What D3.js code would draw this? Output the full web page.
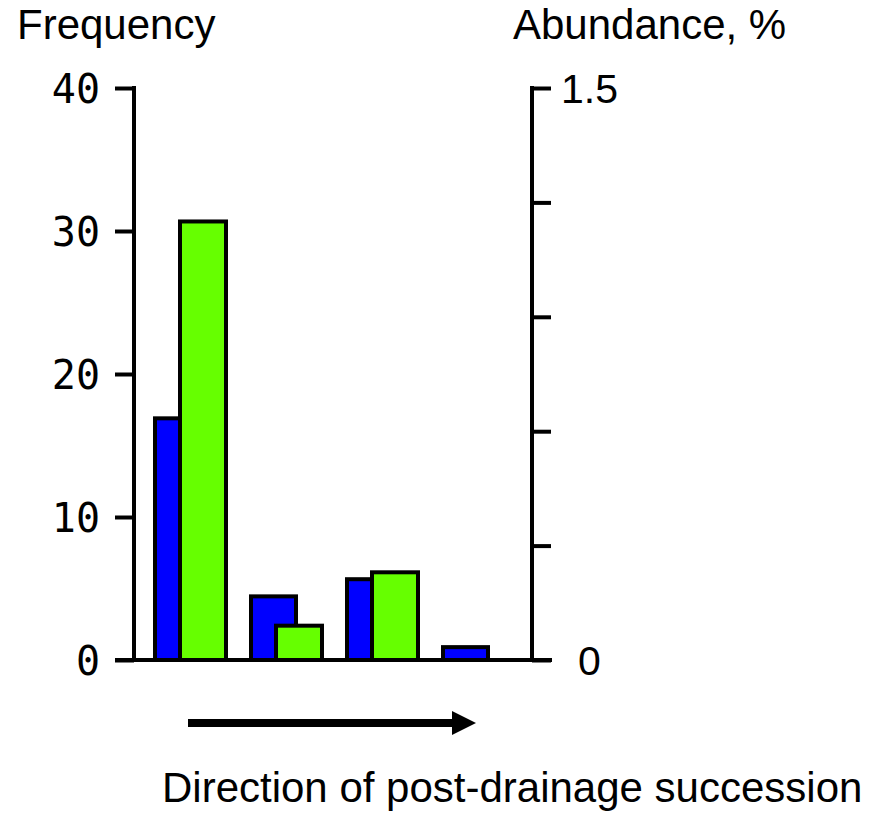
<!DOCTYPE html>
<html>
<head>
<meta charset="utf-8">
<script src="https://cdn.jsdelivr.net/npm/d3@7"></script>
<style>
  body { margin: 0; background: #fff; }
  text { font-family: Arial, "Liberation Sans", sans-serif; fill: #000; }
</style>
</head>
<body>
<div id="chart"></div>
<script>
var w = 876, h = 815;

// stages along the post-drainage succession
var stages = ["1", "2", "3", "4"];
// frequency (left axis) and abundance, % (right axis)
var frequency = [16.9, 4.45, 5.65, 0.9];
var abundance = [1.15, 0.09, 0.23, 0];
var leftTicks = [0, 10, 20, 30, 40];
var rightTicks = [0, 0.3, 0.6, 0.9, 1.2, 1.5];
var rightLabels = {0: "0", 1.5: "1.5"};

var axisX = 134, axisR = 532, baseY = 660, topY = 88;

var svg = d3.select("#chart").append("svg")
    .attr("width", w)
    .attr("height", h)

svg.append("rect").attr("width", w).attr("height", h).attr("fill", "#fff");

var x = d3.scaleBand().domain(stages).range([140, 524]).padding(0);
var yL = d3.scaleLinear().domain([0, 40]).range([baseY, topY]);
var yR = d3.scaleLinear().domain([0, 1.5]).range([baseY, topY]);

var data = stages.map(function(s, i){ return {stage: s, freq: frequency[i], abund: abundance[i]}; });

// blue bars - frequency
svg.selectAll(".freq").data(data).enter().append("rect")
    .attr("class", "freq")
    .attr("x", function(d){ return x(d.stage) + 15; })
    .attr("width", 45)
    .attr("y", function(d){ return yL(d.freq); })
    .attr("height", function(d){ return baseY - yL(d.freq); })
    .attr("fill", "#0000ff")
    .attr("stroke", "#000")
    .attr("stroke-width", 4);

// green bars - abundance, drawn over the blue ones
svg.selectAll(".abund").data(data.filter(function(d){ return d.abund > 0; })).enter().append("rect")
    .attr("class", "abund")
    .attr("x", function(d){ return x(d.stage) + 40; })
    .attr("width", 46)
    .attr("y", function(d){ return yR(d.abund); })
    .attr("height", function(d){ return baseY - yR(d.abund); })
    .attr("fill", "#66ff00")
    .attr("stroke", "#000")
    .attr("stroke-width", 4);

// left axis
var axisL = d3.axisLeft(yL).tickValues(leftTicks).tickSize(19).tickPadding(15).tickSizeOuter(0);
var gL = svg.append("g").attr("transform", "translate(" + axisX + ",0)").call(axisL);
gL.select(".domain").remove();
gL.selectAll("line").attr("stroke", "#000").attr("stroke-width", 4);
gL.selectAll("text")
    .style("font-family", "'DejaVu Sans Mono', monospace")
    .style("font-size", "40px")
    .attr("dy", "0.36em");
svg.append("line")
    .attr("x1", axisX).attr("x2", axisX)
    .attr("y1", topY - 2).attr("y2", baseY)
    .attr("stroke", "#000").attr("stroke-width", 4);

// right axis
var axisRt = d3.axisRight(yR).tickValues(rightTicks).tickSize(19).tickPadding(26).tickSizeOuter(0)
    .tickFormat(function(d){ return rightLabels[d] || ""; });
var gR = svg.append("g").attr("transform", "translate(" + axisR + ",0)").call(axisRt);
gR.select(".domain").remove();
gR.selectAll("line").attr("stroke", "#000").attr("stroke-width", 4);
gR.selectAll("text")
    .style("font-size", "41px")
    .attr("x", function(d){ return d === 0 ? 46 : 29; })
    .attr("dy", "0.36em");
svg.append("line")
    .attr("x1", axisR).attr("x2", axisR)
    .attr("y1", topY - 2).attr("y2", baseY)
    .attr("stroke", "#000").attr("stroke-width", 4);

// baseline
svg.append("line")
    .attr("x1", 115).attr("x2", 552)
    .attr("y1", baseY).attr("y2", baseY)
    .attr("stroke", "#000").attr("stroke-width", 4);

// axis titles
svg.append("text").attr("x", 17).attr("y", 39)
    .style("font-size", "42px")
    .text("Frequency");
svg.append("text").attr("x", 513).attr("y", 39)
    .style("font-size", "42px")
    .text("Abundance, %");

// arrow
svg.append("line")
    .attr("x1", 188).attr("x2", 456)
    .attr("y1", 723).attr("y2", 723)
    .attr("stroke", "#000").attr("stroke-width", 8);
svg.append("path")
    .attr("d", "M452,711 L476,723 L452,735 Z")
    .attr("fill", "#000");

svg.append("text").attr("x", 162).attr("y", 802)
    .style("font-size", "42px")
    .text("Direction of post-drainage succession");
</script>
</body>
</html>
